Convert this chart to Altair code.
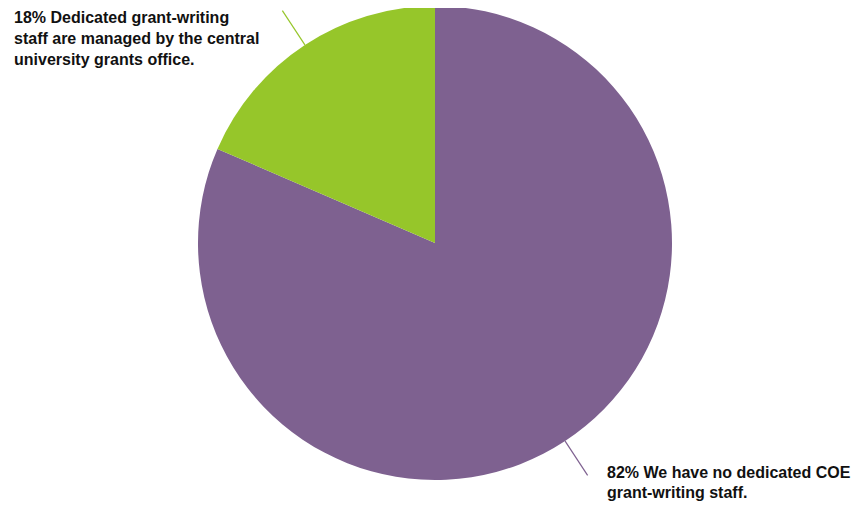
import altair as alt
import pandas as pd

categories = ["We have no dedicated COE grant-writing staff.",
              "Dedicated grant-writing staff are managed by the central university grants office."]
values = [81.5, 18.5]
colors = ["#7E6190", "#96C62A"]
order = [0, 1]

green_label = ["18% Dedicated grant-writing", "staff are managed by the central", "university grants office."]
purple_label = ["82% We have no dedicated COE", "grant-writing staff."]

df = pd.DataFrame({"category": categories, "value": values, "order": order})

CX, CY, R = 427, 235, 237

color_scale = alt.Scale(domain=categories, range=colors)

base = alt.Chart(df)

pie = base.mark_arc(radius=R).encode(
    theta=alt.Theta("value:Q", stack=True),
    order=alt.Order("order:Q"),
    color=alt.Color("category:N", scale=color_scale, legend=None),
    x=alt.value(CX),
    y=alt.value(CY),
)

leaders = base.transform_joinaggregate(
    total="sum(value)"
).transform_window(
    cum="sum(value)", sort=[alt.SortField("order")]
).transform_calculate(
    ang="(datum.cum - datum.value/2) / datum.total * 2 * PI",
    r0=str(R), r1=str(R + 41)
).transform_fold(
    ["r0", "r1"], as_=["which", "rad"]
).transform_calculate(
    px=f"{CX} + datum.rad * sin(datum.ang)",
    py=f"{CY} - datum.rad * cos(datum.ang)"
).mark_line(strokeWidth=1.2).encode(
    x=alt.X("px:Q", scale=None),
    y=alt.Y("py:Q", scale=None),
    detail="category:N",
    color=alt.Color("category:N", scale=color_scale, legend=None),
)

green_text = alt.Chart(pd.DataFrame({"t": [0]})).mark_text(
    text=green_label, align="left", baseline="alphabetic", font="Liberation Sans",
    fontWeight="bold", fontSize=16, lineHeight=21, color="#111111"
).encode(x=alt.value(6), y=alt.value(15))

purple_text = alt.Chart(pd.DataFrame({"t": [0]})).mark_text(
    text=purple_label, align="left", baseline="alphabetic", font="Liberation Sans",
    fontWeight="bold", fontSize=16, lineHeight=20, color="#111111"
).encode(x=alt.value(599), y=alt.value(470))

chart = alt.layer(pie, leaders, green_text, purple_text).properties(
    width=844, height=494, autosize=alt.AutoSizeParams(type="none"), padding=0
).configure_view(stroke=None)

chart.save("out.html", embed_options={"renderer": "svg", "actions": False})
